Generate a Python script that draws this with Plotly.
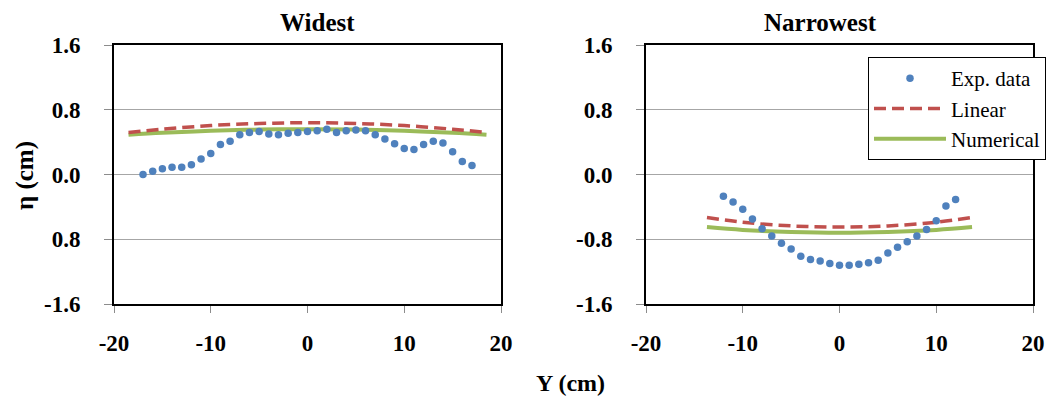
import plotly.graph_objects as go

# ---- data ----
wide_exp_x = [-17, -16, -15, -14, -13, -12, -11, -10, -9, -8, -7, -6, -5, -4, -3, -2, -1, 0, 1, 2, 3, 4, 5, 6, 7, 8, 9, 10, 11, 12, 13, 14, 15, 16, 17]
wide_exp_y = [0.00, 0.04, 0.07, 0.09, 0.09, 0.12, 0.19, 0.26, 0.37, 0.41, 0.49, 0.52, 0.53, 0.50, 0.49, 0.51, 0.52, 0.53, 0.54, 0.56, 0.52, 0.54, 0.55, 0.54, 0.49, 0.44, 0.38, 0.32, 0.31, 0.37, 0.41, 0.39, 0.28, 0.16, 0.11]

wide_lin_x = [-18.5, -15, -10, -5, 0, 5, 10, 15, 18.5]
wide_lin_y = [0.52, 0.56, 0.605, 0.63, 0.64, 0.63, 0.605, 0.56, 0.52]
wide_num_x = [-18.5, -15, -10, -5, 0, 5, 10, 15, 18.5]
wide_num_y = [0.49, 0.515, 0.54, 0.555, 0.56, 0.555, 0.54, 0.515, 0.49]

narrow_exp_x = [-12, -11, -10, -9, -8, -7, -6, -5, -4, -3, -2, -1, 0, 1, 2, 3, 4, 5, 6, 7, 8, 9, 10, 11, 12]
narrow_exp_y = [-0.27, -0.34, -0.43, -0.55, -0.67, -0.76, -0.85, -0.92, -1.01, -1.05, -1.07, -1.10, -1.12, -1.12, -1.11, -1.09, -1.06, -0.97, -0.90, -0.83, -0.76, -0.68, -0.57, -0.39, -0.31]

narrow_lin_x = [-13.7, -10, -5, 0, 5, 10, 13.7]
narrow_lin_y = [-0.53, -0.59, -0.635, -0.65, -0.635, -0.59, -0.53]
narrow_num_x = [-13.7, -10, -5, 0, 5, 10, 13.7]
narrow_num_y = [-0.65, -0.685, -0.71, -0.72, -0.71, -0.685, -0.65]

x_ticks = [-20, -10, 0, 10, 20]
x_ticktext = ["-20", "-10", "0", "10", "20"]
y_ticks = [-1.6, -0.8, 0.0, 0.8, 1.6]
left_y_ticktext = ["-1.6", "0.8", "0.0", "0.8", "1.6"]
right_y_ticktext = ["-1.6", "-0.8", "0.0", "0.8", "1.6"]
titles = ["Widest", "Narrowest"]

BLUE = "#4F81BD"
RED = "#C0504D"
GREEN = "#9BBB59"
FONT = "Liberation Serif, Times New Roman, serif"

fig = go.Figure()

def add_panel(xa, ya, ex, ey, lx, ly, nx, ny, show):
    fig.add_trace(go.Scatter(x=nx, y=ny, mode="lines", name="Numerical",
                             line=dict(color=GREEN, width=4, shape="spline"),
                             xaxis=xa, yaxis=ya, showlegend=show, legendrank=3))
    fig.add_trace(go.Scatter(x=lx, y=ly, mode="lines", name="Linear",
                             line=dict(color=RED, width=3.5, dash="12px,6px", shape="spline"),
                             xaxis=xa, yaxis=ya, showlegend=show, legendrank=2))
    fig.add_trace(go.Scatter(x=ex, y=ey, mode="markers", name="Exp. data",
                             marker=dict(color=BLUE, size=7.5),
                             xaxis=xa, yaxis=ya, showlegend=show, legendrank=1))

add_panel("x", "y", wide_exp_x, wide_exp_y, wide_lin_x, wide_lin_y, wide_num_x, wide_num_y, False)
add_panel("x2", "y2", narrow_exp_x, narrow_exp_y, narrow_lin_x, narrow_lin_y, narrow_num_x, narrow_num_y, True)

W, H = 1060, 398
ydom = [1 - 304 / H, 1 - 45 / H]
xdom1 = [114 / W, 501 / W]
xdom2 = [646 / W, 1033 / W]

tickfont = dict(family=FONT, size=23, color="black", weight="bold")

def xaxis(dom, anchor):
    return dict(domain=dom, anchor=anchor, range=[-20, 20], tickvals=x_ticks, ticktext=x_ticktext,
                ticks="outside", ticklen=7, tickcolor="#8C8C8C", tickwidth=1,
                showline=True, linecolor="black", linewidth=2, mirror=True, automargin=False,
                showgrid=False, zeroline=False, tickfont=tickfont, ticklabelstandoff=10)

def yaxis(anchor, text):
    return dict(domain=ydom, anchor=anchor, range=[-1.6, 1.6], tickvals=y_ticks, ticktext=text,
                ticks="outside", ticklen=8, tickcolor="#8C8C8C", tickwidth=1,
                showline=True, linecolor="black", linewidth=2, mirror=True, automargin=False,
                showgrid=True, gridcolor="#A6A6A6", gridwidth=1, zeroline=False,
                tickfont=tickfont, ticklabelstandoff=19)

def ann(text, x, y, size, angle=0):
    return dict(text=text, x=x / W, y=1 - y / H, xref="paper", yref="paper",
                xanchor="center", yanchor="middle", textangle=angle, showarrow=False,
                font=dict(family=FONT, size=size, color="black", weight="bold"))

fig.update_layout(
    template="none",
    width=W, height=H,
    margin=dict(l=0, r=0, t=0, b=0, pad=0),
    paper_bgcolor="white", plot_bgcolor="white",
    font=dict(family=FONT, color="black"),
    xaxis=xaxis(xdom1, "y"), yaxis=yaxis("x", left_y_ticktext),
    xaxis2=xaxis(xdom2, "y2"), yaxis2=yaxis("x2", right_y_ticktext),
    legend=dict(x=868 / W, y=1 - 57 / H, xanchor="left", yanchor="top",
                bgcolor="white", bordercolor="black", borderwidth=1,
                font=dict(family=FONT, size=21, color="black"),
                itemwidth=72, tracegroupgap=0),
    showlegend=True,
    annotations=[
        ann(titles[0], 317, 23, 25),
        ann(titles[1], 820, 23, 25),
        ann("η (cm)", 25, 176, 25, -90),
        ann("Y (cm)", 570, 383, 24),
    ],
)

fig.write_html("out.html")
